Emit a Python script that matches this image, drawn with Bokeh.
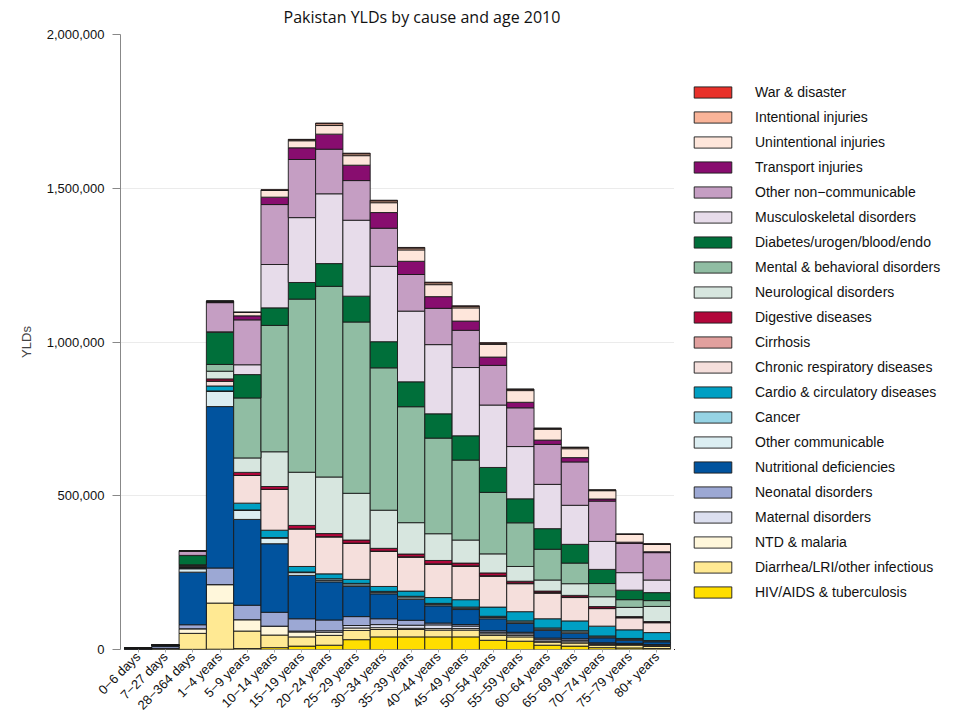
from math import pi
from bokeh.plotting import figure
from bokeh.layouts import row
from bokeh.models import (ColumnDataSource, FactorRange, Range1d, Legend, LegendItem,
                          NumeralTickFormatter, FixedTicker, Title)
from bokeh.embed import file_html
from bokeh.resources import INLINE

M = "\u2212"
ages = [f"0{M}6 days", f"7{M}27 days", f"28{M}364 days", f"1{M}4 years", f"5{M}9 years",
        f"10{M}14 years", f"15{M}19 years", f"20{M}24 years", f"25{M}29 years", f"30{M}34 years",
        f"35{M}39 years", f"40{M}44 years", f"45{M}49 years", f"50{M}54 years", f"55{M}59 years",
        f"60{M}64 years", f"65{M}69 years", f"70{M}74 years", f"75{M}79 years", "80+ years"]

# Values (YLDs), bottom of stack first
hiv = [0, 0, 500, 1000, 3000, 6000, 11000, 14000, 32000, 41000, 41000, 41000, 41000, 30000, 27000, 14000, 11000, 6000, 5000, 3000]
diarrhea = [500, 3000, 52000, 150000, 57000, 41000, 30000, 32000, 30000, 24000, 24000, 22000, 22000, 16000, 14000, 10000, 10000, 8000, 9000, 7000]
ntd = [300, 1000, 15000, 60000, 37000, 29000, 16000, 10000, 8000, 6000, 4000, 5000, 5000, 5000, 5000, 3000, 4000, 2000, 2000, 2000]
maternal = [0, 0, 0, 0, 0, 0, 3000, 5000, 8000, 10000, 10000, 12000, 8000, 5000, 5000, 5000, 5000, 3000, 2000, 2000]
neonatal = [3000, 6000, 13000, 54000, 47000, 45000, 40000, 35000, 29000, 19000, 16000, 6000, 5000, 5000, 5000, 5000, 5000, 3000, 2000, 2000]
nutritional = [500, 3000, 171000, 525000, 279000, 223000, 141000, 124000, 98000, 81000, 68000, 56000, 49000, 39000, 29000, 25000, 18000, 16000, 10000, 9000]
other_comm = [200, 500, 11000, 49000, 29000, 18000, 9000, 5000, 5000, 4000, 5000, 4000, 4000, 4000, 4000, 4000, 4000, 3000, 3000, 2000]
cancer = [0, 0, 1000, 2000, 2000, 2000, 2000, 5000, 5000, 4000, 5000, 4000, 4000, 4000, 4000, 4000, 4000, 3000, 3000, 2000]
cardio = [100, 200, 3000, 16000, 22000, 24000, 18000, 16000, 13000, 16000, 17000, 19000, 24000, 30000, 30000, 30000, 32000, 32000, 28000, 26000]
chronic_resp = [0, 200, 2000, 16000, 90000, 133000, 122000, 120000, 117000, 114000, 110000, 108000, 108000, 100000, 91000, 83000, 76000, 57000, 39000, 32000]
cirrhosis = [0, 0, 0, 0, 0, 0, 500, 1000, 1000, 1000, 1500, 1500, 2000, 2000, 2000, 2000, 2000, 1500, 1000, 1000]
digestive = [0, 0, 2000, 7000, 10000, 9000, 11000, 10000, 10000, 9000, 9000, 11000, 9000, 9000, 6000, 5000, 5000, 5000, 3000, 3000]
neurological = [0, 0, 3000, 25000, 47000, 113000, 173000, 184000, 152000, 124000, 102000, 87000, 75000, 62000, 48000, 36000, 38000, 32000, 30000, 49000]
mental = [0, 0, 2000, 22000, 195000, 411000, 563000, 620000, 557000, 463000, 377000, 311000, 260000, 200000, 142000, 100000, 67000, 43000, 25000, 19000]
diabetes = [0, 500, 30000, 105000, 76000, 57000, 54000, 74000, 84000, 85000, 81000, 79000, 79000, 81000, 78000, 67000, 61000, 46000, 31000, 26000]
musculo = [0, 0, 500, 1000, 32000, 141000, 211000, 227000, 247000, 245000, 230000, 225000, 222000, 203000, 170000, 144000, 127000, 91000, 57000, 41000]
other_ncd = [200, 500, 13000, 95000, 146000, 195000, 189000, 145000, 129000, 124000, 119000, 118000, 121000, 129000, 126000, 130000, 141000, 131000, 95000, 89000]
transport = [0, 0, 500, 2000, 13000, 24000, 38000, 49000, 50000, 51000, 43000, 38000, 30000, 27000, 18000, 14000, 14000, 7000, 4000, 3000]
unintentional = [100, 100, 2000, 3000, 11000, 22000, 23000, 28000, 31000, 32000, 37000, 39000, 43000, 41000, 38000, 35000, 29000, 27000, 25000, 24000]
intentional = [0, 0, 0, 0, 500, 1000, 3000, 6000, 6000, 6000, 6000, 6000, 5000, 4000, 4000, 3000, 4000, 2000, 1000, 1000]
war = [0, 0, 0, 0, 500, 1000, 1500, 2000, 2000, 2000, 2000, 2000, 1500, 1500, 1000, 1000, 1000, 500, 500, 500]

causes = ["HIV/AIDS & tuberculosis", "Diarrhea/LRI/other infectious", "NTD & malaria",
          "Maternal disorders", "Neonatal disorders", "Nutritional deficiencies",
          "Other communicable", "Cancer", "Cardio & circulatory diseases",
          "Chronic respiratory diseases", "Cirrhosis", "Digestive diseases",
          "Neurological disorders", "Mental & behavioral disorders",
          "Diabetes/urogen/blood/endo", "Musculoskeletal disorders",
          "Other non\u2212communicable", "Transport injuries", "Unintentional injuries",
          "Intentional injuries", "War & disaster"]
series = [hiv, diarrhea, ntd, maternal, neonatal, nutritional, other_comm, cancer, cardio,
          chronic_resp, cirrhosis, digestive, neurological, mental, diabetes, musculo,
          other_ncd, transport, unintentional, intentional, war]
colors = ["#FFDE00", "#FFE993", "#FFF7DB", "#DCDFEF", "#9CA8D4", "#01539E", "#DCEEF2",
          "#96D3E4", "#009FC3", "#F5DFDC", "#E1A09E", "#B2073B", "#D7E6DF", "#90BDA3",
          "#006F3A", "#E7DCEA", "#C59EC3", "#880D6F", "#FEE6DB", "#F9B499", "#E8312A"]

keys = [f"c{i}" for i in range(len(causes))]
data = {"age": ages}
for k, s in zip(keys, series):
    data[k] = s
src = ColumnDataSource(data)

H = 721
W_MAIN = 674
W_LEG = 289
BAR_LINE = dict(line_color="#1a1a1a", line_width=1, line_alpha=0.9)

p = figure(x_range=FactorRange(*ages, range_padding=0.0145),
           y_range=Range1d(0, 2_000_000),
           width=W_MAIN, height=H,
           output_backend="svg", toolbar_location=None,
           min_border_left=120, min_border_top=34, min_border_right=0,
           min_border_bottom=60)
p.title = None
p.add_layout(Title(text="Pakistan YLDs by cause and age 2010", align="left", offset=163,
                   vertical_align="top",
                   text_font="Open Sans", text_font_size="16px", text_font_style="normal",
                   text_color="#111111", standoff=10), "above")

p.vbar_stack(keys, x="age", width=1.0, source=src, fill_color=colors, **BAR_LINE)

p.outline_line_color = None
p.xgrid.visible = False
p.ygrid.grid_line_color = "#ebebeb"
p.ygrid.grid_line_width = 1

p.yaxis.ticker = FixedTicker(ticks=[0, 500000, 1000000, 1500000, 2000000])
p.yaxis.formatter = NumeralTickFormatter(format="0,0")
p.yaxis.axis_label = "YLDs"
p.yaxis.axis_label_text_font = "Liberation Sans"
p.yaxis.axis_label_text_font_size = "13px"
p.yaxis.axis_label_text_font_style = "normal"
p.yaxis.axis_label_standoff = 10
p.yaxis.axis_line_color = "#888888"
p.yaxis.major_tick_line_color = "#888888"
p.yaxis.major_tick_in = 0
p.yaxis.major_tick_out = 8
p.yaxis.minor_tick_line_color = None
p.yaxis.major_label_standoff = 8
p.yaxis.major_label_text_font = "Liberation Sans"
p.yaxis.major_label_text_font_size = "13px"
p.yaxis.major_label_text_color = "#111111"

p.xaxis.axis_line_color = None
p.xaxis.major_tick_line_color = "#aaaaaa"
p.xaxis.major_tick_in = 0
p.xaxis.major_tick_out = 3
p.xaxis.major_label_orientation = pi / 4
p.xaxis.major_label_standoff = 2
p.xaxis.major_label_text_font = "Liberation Sans"
p.xaxis.major_label_text_font_size = "13px"
p.xaxis.major_label_text_color = "#111111"

# Legend panel: a separate figure whose placeholder glyphs lie outside its visible range
p2 = figure(width=W_LEG, height=H, x_range=Range1d(0, 1), y_range=Range1d(0, 1),
            output_backend="svg", toolbar_location=None,
            x_axis_location=None, y_axis_location=None,
            min_border_left=0, min_border_right=0, min_border_top=0, min_border_bottom=0)
p2.outline_line_color = None
p2.grid.visible = False
placeholder = ColumnDataSource(dict(x=[-5], top=[-5]))
leg_renderers = [p2.vbar(x="x", top="top", bottom=-6, width=0.5, source=placeholder,
                         fill_color=c, **BAR_LINE) for c in colors]
items = [LegendItem(label=c, renderers=[r], index=0) for c, r in zip(causes, leg_renderers)][::-1]
legend = Legend(items=items, location=(15, 49), ncols=1, glyph_width=47, glyph_height=14,
                label_height=14, spacing=9, label_standoff=19, padding=10, margin=0,
                border_line_color=None, background_fill_alpha=0,
                label_text_font="Liberation Sans", label_text_font_size="14px",
                label_text_color="#111111")
p2.add_layout(legend, "center")

layout = row(p, p2, spacing=0)
open("out.html", "w").write(file_html(layout, INLINE))
